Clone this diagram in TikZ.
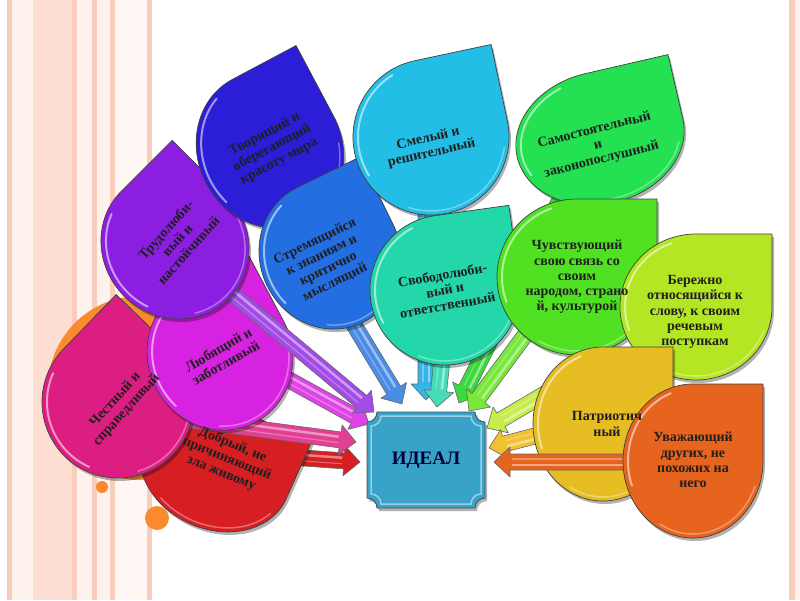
\documentclass[tikz,border=0pt]{standalone}
\usepackage{fontspec}
\setmainfont{Liberation Serif}
\usetikzlibrary{calc,shadows}
\definecolor{cA}{HTML}{2C1ED6}
\definecolor{cB}{HTML}{8C1EE1}
\definecolor{cC}{HTML}{236EE1}
\definecolor{cD}{HTML}{23BEE6}
\definecolor{cE}{HTML}{23E150}
\definecolor{cF}{HTML}{23D7AA}
\definecolor{cG}{HTML}{50E123}
\definecolor{cH}{HTML}{B4E623}
\definecolor{cI}{HTML}{E6BE23}
\definecolor{cJ}{HTML}{E6641E}
\definecolor{cK}{HTML}{D71E23}
\definecolor{cL}{HTML}{DC1E82}
\definecolor{cM}{HTML}{D723E1}
\definecolor{aD}{HTML}{36B4EA}
\definecolor{aE}{HTML}{3CD840}
\definecolor{aG}{HTML}{78E83A}
\definecolor{aH}{HTML}{C6EC4E}
\definecolor{aI}{HTML}{F0C232}
\definecolor{aC}{HTML}{4C8CE6}
\definecolor{cIdeal}{HTML}{38A2C8}
\definecolor{peach}{HTML}{F9CDBB}
\definecolor{pale}{HTML}{FEF2EC}
\definecolor{lpeach}{HTML}{FCDFD2}
\definecolor{orng}{HTML}{F98B2E}
\tikzset{
  droptext/.style={font=\bfseries\fontsize{14}{15.2}\selectfont, align=center, text=black!88, inner sep=0pt},
  dropline/.style={draw=black!75, line width=0.7pt},
}
\newcommand\tdrop[6]{%
  \begin{scope}[shift={(#1,#2)}, rotate=#5]
    \path[fill=#6, dropline, drop shadow={shadow xshift=2pt, shadow yshift=-3pt, opacity=.3, fill=black}]
      (#3,0) -- (#3,-#4) -- (0,-#4) arc[start angle=270, end angle=0, x radius=#3, y radius=#4] -- cycle;
    \draw[white, opacity=.55, line width=2pt, line cap=round]
      (250:{#3-5} and {#4-5}) arc[start angle=250, end angle=160, x radius={#3-5}, y radius={#4-5}];
    \draw[white, opacity=.35, line width=1.5pt, line cap=round]
      (120:{#3-4} and {#4-4}) arc[start angle=120, end angle=20, x radius={#3-4}, y radius={#4-4}];
  \end{scope}}
% block arrow: shaft half width 8, head half width 15, head length 16
\newcommand\barrow[3]{%
  \fill[#3, draw=black!60, line width=.6pt, line join=round]
    let \p1=(#1), \p2=(#2), \n1={atan2(\y2-\y1,\x2-\x1)}, \n2={veclen(\x2-\x1,\y2-\y1)-16} in
    (\p1) ++(\n1+90:8pt) -- ++(\n1:\n2) -- ++(\n1+90:7pt) -- (\p2) -- ++(\n1+223.15:21.93pt)
    -- ++(\n1+90:7pt) -- ++(\n1+180:\n2) -- cycle;
  \draw[white, opacity=.45, line width=2.5pt]
    let \p1=(#1), \p2=(#2), \n1={atan2(\y2-\y1,\x2-\x1)}, \n2={veclen(\x2-\x1,\y2-\y1)-18} in
    (\p1) ++(\n1+90:3pt) -- ++(\n1:\n2);
  \draw[white, opacity=.3, line width=1.2pt]
    let \p1=(#1), \p2=(#2), \n1={atan2(\y2-\y1,\x2-\x1)}, \n2={veclen(\x2-\x1,\y2-\y1)-18} in
    (\p1) ++(\n1-90:3pt) -- ++(\n1:\n2);
}
\begin{document}
\begin{tikzpicture}[x=1pt,y=-1pt]
\useasboundingbox (0,0) rectangle (800,600);
\fill[white] (0,0) rectangle (800,600);
% left stripes
\fill[peach] (7,0) rectangle (12,600);
\fill[pale] (12,0) rectangle (33,600);
\fill[lpeach] (33,0) rectangle (72,600);
\fill[peach] (72,0) rectangle (77,600);
\fill[pale] (77,0) rectangle (92,600);
\fill[peach] (92,0) rectangle (97,600);
\fill[pale] (97,0) rectangle (110,600);
\fill[peach] (110,0) rectangle (115,600);
\fill[pale!60!white] (115,0) rectangle (147,600);
\fill[peach] (147,0) rectangle (152,600);
% right stripe
\fill[peach] (789,0) rectangle (795,600);
\fill[pale] (795,0) rectangle (800,600);
% orange circles
\fill[orng] (140,388) circle[radius=92];
\fill[orng] (102,487) circle[radius=6];
\fill[orng] (157,518) circle[radius=12];

% arrow coordinates
\coordinate (sK) at (290,457); \coordinate (eK) at (360,462);
\coordinate (sL) at (190,420); \coordinate (eL) at (356,442);
\coordinate (sM) at (262,365); \coordinate (eM) at (369,424);
\coordinate (sB) at (222,285); \coordinate (eB) at (374,412);
\coordinate (sC) at (348,315); \coordinate (eC) at (402,404);
\coordinate (sD) at (426,210); \coordinate (eD) at (426,400);
\coordinate (sF) at (443,350); \coordinate (eF) at (437,407);
\coordinate (sE) at (560,200); \coordinate (eE) at (459,403);
\coordinate (sG) at (540,315); \coordinate (eG) at (469,411);
\coordinate (sH) at (565,382); \coordinate (eH) at (487,428);
\coordinate (sI) at (565,428); \coordinate (eI) at (489,448);
\coordinate (sJ) at (650,462); \coordinate (eJ) at (494,462);

% drops and their arrows, back to front
\barrow{sK}{eK}{cK}
\tdrop{215}{467}{78}{62}{-24}{cK}
\barrow{sL}{eL}{cL!85!white}
\tdrop{118}{402}{76}{76}{46}{cL}
\barrow{sM}{eM}{cM!85!white}
\tdrop{220}{355}{72}{76}{28}{cM}
\barrow{sB}{eB}{cB!80!white}
\tdrop{175}{245}{72}{76}{45}{cB}
\tdrop{270}{150}{72}{80}{28}{cA}
\barrow{sC}{eC}{aC}
\tdrop{330}{255}{70}{75}{26}{cC}
\barrow{sD}{eD}{aD}
\tdrop{431}{137}{78}{78}{12}{cD}
\barrow{sE}{eE}{aE}
\tdrop{600}{138}{85}{66}{13}{cE}
\barrow{sF}{eF}{cF!85!white}
\tdrop{445}{290}{75}{75}{8}{cF}
\barrow{sG}{eG}{aG}
\tdrop{577}{277}{80}{78}{0}{cG}
\barrow{sH}{eH}{aH}
\tdrop{696}{307}{76}{73}{0}{cH}
\barrow{sI}{eI}{aI}
\tdrop{603}{424}{70}{77}{0}{cI}
\barrow{sJ}{eJ}{cJ}
\tdrop{693}{461}{70}{77}{0}{cJ}

% texts
\node[droptext, rotate=-22] (tK) at (227,459) {Добрый, не\\причиняющий\\зла живому};
\node[droptext, rotate=48] (tL) at (121,405) {Честный и\\справедливый};
\node[droptext, rotate=30] (tM) at (222,356) {Любящий и\\заботливый};
\node[droptext, rotate=48] (tB) at (177,240) {Трудолюби-\\вый и\\настойчивый};
\node[droptext, rotate=28] (tA) at (272,148) {Творящий и\\оберегающий\\красоту мира};
\node[droptext, rotate=26] (tC) at (325,262) {Стремящийся\\к знаниям и\\критично\\мыслящий};
\node[droptext, rotate=13] (tD) at (430,146) {Смелый и\\решительный};
\node[droptext, rotate=14] (tE) at (598,145) {Самостоятельный\\и\\законопослушный};
\node[droptext, rotate=10] (tF) at (445,290) {Свободолюби-\\вый и\\ответственный};
\node[droptext] (tG) at (577,277) {Чувствующий\\свою связь со\\своим\\народом, страно\\й, культурой};
\node[droptext] (tH) at (695,312) {Бережно\\относящийся к\\слову, к своим\\речевым\\поступкам};
\node[droptext] (tI) at (607,424) {Патриотич\\ный};
\node[droptext] (tJ) at (693,460) {Уважающий\\других, не\\похожих на\\него};

% IDEAL box
\path[fill=cIdeal, draw=black!70, line width=.8pt, drop shadow={shadow xshift=2pt, shadow yshift=-3pt, opacity=.3, fill=black}]
  (377,412) -- (475,412) arc[start angle=180, end angle=90, radius=10]
  -- (485,498) arc[start angle=270, end angle=180, radius=10]
  -- (377,508) arc[start angle=0, end angle=-90, radius=10]
  -- (367,422) arc[start angle=90, end angle=0, radius=10] -- cycle;
\draw[white, opacity=.5, line width=1.5pt]
  (381,416) -- (471,416) arc[start angle=180, end angle=90, radius=10]
  -- (481,494) arc[start angle=270, end angle=180, radius=10]
  -- (381,504) arc[start angle=0, end angle=-90, radius=10]
  -- (371,426) arc[start angle=90, end angle=0, radius=10] -- cycle;
\node[font=\bfseries\fontsize{19}{20}\selectfont, text=black!80!blue] (ideal) at (426,460) {ИДЕАЛ};
\end{tikzpicture}
\end{document}
